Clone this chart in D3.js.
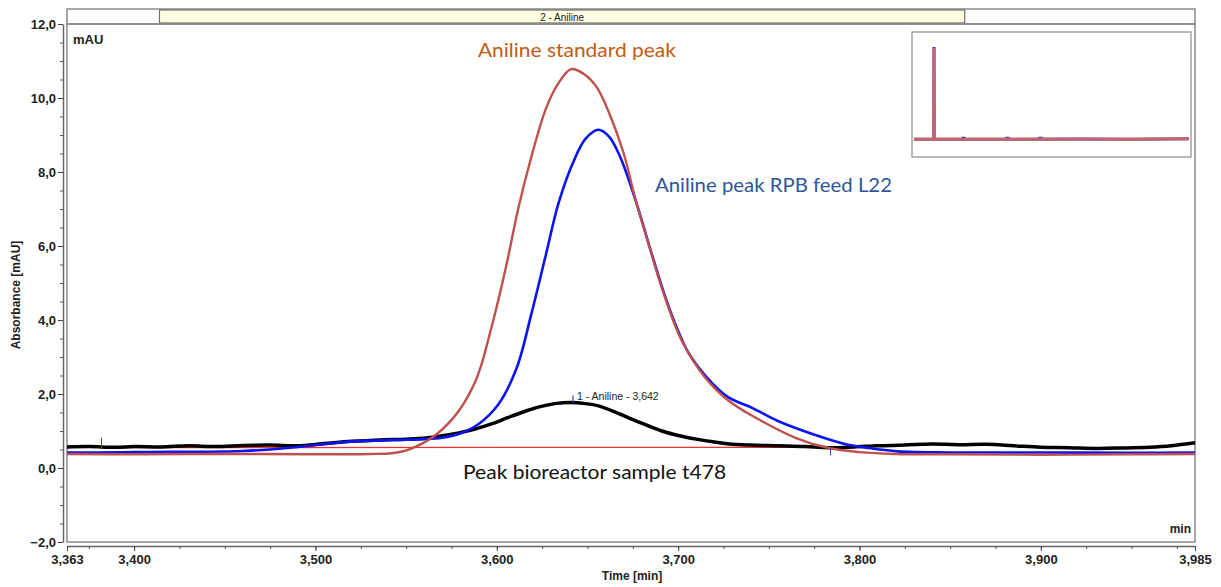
<!DOCTYPE html>
<html>
<head>
<meta charset="utf-8">
<script src="https://cdn.jsdelivr.net/npm/d3@7"></script>
<style>
html,body{margin:0;padding:0;background:#fff;}
svg{display:block;}
</style>
</head>
<body>
<div id="chart"></div>
<script>
// ---------------- DATA ----------------
const xDomain = [3.363, 3.985];
const yDomain = [-2, 12];
const xMajorTicks = [3.363, 3.4, 3.5, 3.6, 3.7, 3.8, 3.9, 3.985];
const yMajorTicks = [-2, 0, 2, 4, 6, 8, 10, 12];

// Aniline standard peak (red)
const redT = [3.363, 3.40, 3.45, 3.50, 3.53, 3.542, 3.549, 3.556, 3.567, 3.579, 3.589, 3.597, 3.605, 3.612, 3.619, 3.627, 3.634, 3.641, 3.648, 3.655, 3.662, 3.670, 3.676, 3.684, 3.691, 3.702, 3.715, 3.728, 3.746, 3.765, 3.783, 3.800, 3.820, 3.85, 3.90, 3.95, 3.985];
const redV = [0.38, 0.37, 0.38, 0.37, 0.38, 0.40, 0.46, 0.59, 0.92, 1.54, 2.44, 3.79, 5.42, 7.05, 8.40, 9.70, 10.40, 10.78, 10.65, 10.30, 9.59, 8.50, 7.35, 6.00, 4.87, 3.44, 2.44, 1.81, 1.27, 0.81, 0.54, 0.43, 0.38, 0.37, 0.36, 0.37, 0.38];

// Aniline peak RPB feed L22 (blue)
const blueT = [3.363, 3.38, 3.40, 3.42, 3.44, 3.46, 3.48, 3.50, 3.515, 3.53, 3.545, 3.56, 3.570, 3.579, 3.590, 3.601, 3.611, 3.619, 3.627, 3.634, 3.642, 3.649, 3.656, 3.662, 3.668, 3.677, 3.684, 3.695, 3.706, 3.719, 3.728, 3.741, 3.755, 3.774, 3.792, 3.805, 3.821, 3.85, 3.90, 3.95, 3.985];
const blueV = [0.42, 0.42, 0.43, 0.44, 0.44, 0.46, 0.52, 0.62, 0.70, 0.74, 0.76, 0.78, 0.82, 0.92, 1.19, 1.73, 2.71, 4.15, 5.75, 7.15, 8.25, 8.90, 9.14, 8.95, 8.41, 7.16, 6.02, 4.33, 3.09, 2.28, 1.90, 1.62, 1.27, 0.92, 0.65, 0.54, 0.45, 0.42, 0.42, 0.41, 0.42];

// Peak bioreactor sample t478 (black)
const blackT = [3.363, 3.375, 3.39, 3.40, 3.415, 3.43, 3.445, 3.46, 3.475, 3.49, 3.505, 3.52, 3.535, 3.55, 3.561, 3.570, 3.579, 3.588, 3.597, 3.606, 3.616, 3.624, 3.632, 3.641, 3.649, 3.656, 3.665, 3.673, 3.682, 3.691, 3.700, 3.710, 3.720, 3.728, 3.740, 3.755, 3.770, 3.783, 3.797, 3.810, 3.825, 3.840, 3.855, 3.870, 3.885, 3.900, 3.915, 3.930, 3.945, 3.960, 3.972, 3.985];
const blackV = [0.57, 0.58, 0.56, 0.58, 0.57, 0.60, 0.58, 0.61, 0.62, 0.60, 0.66, 0.72, 0.76, 0.78, 0.81, 0.87, 0.95, 1.05, 1.19, 1.36, 1.54, 1.66, 1.74, 1.77, 1.74, 1.68, 1.52, 1.35, 1.17, 1.00, 0.88, 0.78, 0.70, 0.65, 0.62, 0.60, 0.58, 0.55, 0.57, 0.60, 0.62, 0.65, 0.63, 0.64, 0.60, 0.56, 0.55, 0.53, 0.54, 0.56, 0.60, 0.68];

// integration baseline and peak marker
const baseT = [3.382, 3.784];
const baseV = [0.55, 0.56];
const peakName = "1 - Aniline - 3,642";
const peakT = 3.642;
const peakV = 1.77;
const windowLabel = "2 - Aniline";
const windowRange = [3.414, 3.858];

// overview inset (full run)
const insetDomainX = [0, 50];
const insetDomainY = [-1.5, 12.5];
const insetT = [0, 3.50, 3.58, 3.64, 3.70, 3.80, 10, 20, 30, 40, 50];
const insetRed = [0.40, 0.40, 0.5, 10.8, 0.5, 0.40, 0.42, 0.40, 0.42, 0.40, 0.45];
const insetBlue = [0.40, 0.40, 0.5, 10.9, 0.5, 0.40, 0.40, 0.42, 0.44, 0.42, 0.45];
const insetBlueMarks = [9, 17, 23];

const annotations = [
  {text: "Aniline standard peak", t: 3.5896, v: 11.11, color: "#C55A11", len: 198},
  {text: "Aniline peak RPB feed L22", t: 3.6872, v: 7.47, color: "#2F5597", len: 237},
  {text: "Peak bioreactor sample t478", t: 3.5814, v: -0.30, color: "#111111", len: 263}
];

// ---------------- LAYOUT ----------------
const W = 1221, H = 587;
const L = 67, R = 1195, T = 24, B = 542;

const svg = d3.select("#chart").append("svg").attr("width", W).attr("height", H);

const x = d3.scaleLinear().domain(xDomain).range([L, R]);
const y = d3.scaleLinear().domain(yDomain).range([B, T]);

const fmt = (d, n) => d3.format("." + n + "f")(d).replace(".", ",");

// top peak-window strip
svg.append("rect").attr("x", L).attr("y", 9).attr("width", R - L).attr("height", T - 9)
  .attr("fill", "#fff").attr("stroke", "#8a8a8a").attr("stroke-width", 1.5);
svg.append("rect").attr("x", x(windowRange[0])).attr("y", 10).attr("width", x(windowRange[1]) - x(windowRange[0])).attr("height", T - 11)
  .attr("fill", "#FFFDE2").attr("stroke", "#707070").attr("stroke-width", 1.2);
svg.append("text").attr("x", (x(windowRange[0]) + x(windowRange[1])) / 2).attr("y", 20.5)
  .attr("text-anchor", "middle").attr("font-family", "Liberation Sans, Arial, sans-serif")
  .attr("font-size", 10).attr("fill", "#222").text(windowLabel);

// plot frame
svg.append("rect").attr("x", L).attr("y", T).attr("width", R - L).attr("height", B - T)
  .attr("fill", "none").attr("stroke", "#8a8a8a").attr("stroke-width", 1.5);

// y axis
const yAxisG = svg.append("g").attr("transform", `translate(${L - 4},0)`);
yAxisG.call(d3.axisLeft(y).tickValues(d3.range(-2, 12.01, 0.5)).tickSize(3).tickSizeOuter(0).tickFormat(""));
yAxisG.call(g => g.selectAll(".tick line").attr("stroke", "#555"));
yAxisG.call(g => g.select(".domain").attr("stroke", "#666").attr("stroke-width", 1.5));
const yMaj = svg.append("g").attr("transform", `translate(${L - 4},0)`)
  .call(d3.axisLeft(y).tickValues(yMajorTicks).tickSize(5).tickSizeOuter(0).tickPadding(2).tickFormat(d => fmt(d, 1)));
yMaj.select(".domain").remove();
yMaj.selectAll(".tick line").attr("stroke", "#444");
yMaj.selectAll("text").attr("font-family", "Liberation Sans, Arial, sans-serif").attr("font-weight", "bold")
  .attr("font-size", 13).attr("fill", "#222");

// x axis
const xAxisG = svg.append("g").attr("transform", `translate(0,${B + 4})`);
xAxisG.call(d3.axisBottom(x).tickValues(d3.range(3.375, 3.98, 0.025)).tickSize(3).tickSizeOuter(0).tickFormat(""));
xAxisG.call(g => g.selectAll(".tick line").attr("stroke", "#555"));
xAxisG.call(g => g.select(".domain").attr("stroke", "#666").attr("stroke-width", 1.5));
const xMaj = svg.append("g").attr("transform", `translate(0,${B + 4})`)
  .call(d3.axisBottom(x).tickValues(xMajorTicks).tickSize(5).tickSizeOuter(0).tickPadding(4).tickFormat(d => fmt(d, 3)));
xMaj.select(".domain").remove();
xMaj.selectAll(".tick line").attr("stroke", "#444");
xMaj.selectAll("text").attr("font-family", "Liberation Sans, Arial, sans-serif").attr("font-weight", "bold")
  .attr("font-size", 13).attr("fill", "#222");

// axis titles
svg.append("text").attr("transform", `translate(20,${(T + B) / 2 + 12}) rotate(-90)`)
  .attr("text-anchor", "middle").attr("font-family", "Liberation Sans, Arial, sans-serif").attr("font-weight", "bold")
  .attr("font-size", 12).attr("fill", "#222").text("Absorbance [mAU]");
svg.append("text").attr("x", 632).attr("y", 580)
  .attr("text-anchor", "middle").attr("font-family", "Liberation Sans, Arial, sans-serif").attr("font-weight", "bold")
  .attr("font-size", 12).attr("fill", "#222").text("Time [min]");
svg.append("text").attr("x", 73).attr("y", 44)
  .attr("font-family", "Liberation Sans, Arial, sans-serif").attr("font-weight", "bold")
  .attr("font-size", 13).attr("fill", "#222").text("mAU");
svg.append("text").attr("x", R - 4).attr("y", 533).attr("text-anchor", "end")
  .attr("font-family", "Liberation Sans, Arial, sans-serif").attr("font-weight", "bold")
  .attr("font-size", 12).attr("fill", "#222").text("min");

// curves
const line = d3.line().x(d => x(d[0])).y(d => y(d[1])).curve(d3.curveCatmullRom.alpha(0.5));
const zip = (a, b) => a.map((t, i) => [t, b[i]]);

const plot = svg.append("g");
plot.append("path").datum(zip(baseT, baseV)).attr("d", d3.line().x(d => x(d[0])).y(d => y(d[1])))
  .attr("stroke", "#F03030").attr("stroke-width", 1.2).attr("fill", "none");
plot.append("path").datum(zip(blackT, blackV)).attr("d", line)
  .attr("stroke", "#000").attr("stroke-width", 3.5).attr("fill", "none").attr("stroke-linejoin", "round");
plot.append("path").datum(zip(blueT, blueV)).attr("d", line)
  .attr("stroke", "#0A14F0").attr("stroke-width", 2.6).attr("fill", "none");
plot.append("path").datum(zip(redT, redV)).attr("d", line)
  .attr("stroke", "#C0504D").attr("stroke-width", 2.4).attr("fill", "none");

// baseline end markers
baseT.forEach((t, i) => {
  plot.append("line").attr("x1", x(t)).attr("x2", x(t))
    .attr("y1", y(baseV[i]) - (i === 0 ? 10 : 0)).attr("y2", y(baseV[i]) + (i === 0 ? 0 : 8))
    .attr("stroke", "#3040c0").attr("stroke-width", 1);
});
// peak marker and label
plot.append("line").attr("x1", x(peakT)).attr("x2", x(peakT)).attr("y1", y(peakV) - 7).attr("y2", y(peakV))
  .attr("stroke", "#3040c0").attr("stroke-width", 1.2);
plot.append("text").attr("x", x(peakT) + 4).attr("y", y(peakV) - 3)
  .attr("font-family", "Liberation Sans, Arial, sans-serif").attr("font-size", 10.5).attr("fill", "#222").text(peakName);

// annotations
annotations.forEach(a => {
  svg.append("text").attr("x", x(a.t)).attr("y", y(a.v))
    .attr("font-family", "Lato, 'Open Sans', sans-serif").attr("font-size", 20)
    .attr("textLength", a.len).attr("lengthAdjust", "spacingAndGlyphs")
    .attr("fill", a.color).text(a.text);
});

// inset overview
const iL = 912, iR = 1191, iT = 32, iB = 157;
const ix = d3.scaleLinear().domain(insetDomainX).range([iL + 2, iR - 2]);
const iy = d3.scaleLinear().domain(insetDomainY).range([iB - 1, iT + 1]);
svg.append("rect").attr("x", iL).attr("y", iT).attr("width", iR - iL).attr("height", iB - iT)
  .attr("fill", "#fff").attr("stroke", "#8a8a8a").attr("stroke-width", 1.2);
const iline = d3.line().x(d => ix(d[0])).y(d => iy(d[1]));
svg.append("path").datum(zip(insetT, insetBlue)).attr("d", iline)
  .attr("stroke", "#3535c0").attr("stroke-width", 3).attr("fill", "none");
insetBlueMarks.forEach(t => {
  svg.append("line").attr("x1", ix(t) - 2).attr("x2", ix(t) + 2).attr("y1", iy(0.55)).attr("y2", iy(0.55))
    .attr("stroke", "#3535c0").attr("stroke-width", 2.5);
});
svg.append("path").datum(zip(insetT, insetRed)).attr("d", iline)
  .attr("stroke", "#D06868").attr("stroke-width", 3).attr("fill", "none").attr("opacity", 0.95);
</script>
</body>
</html>
